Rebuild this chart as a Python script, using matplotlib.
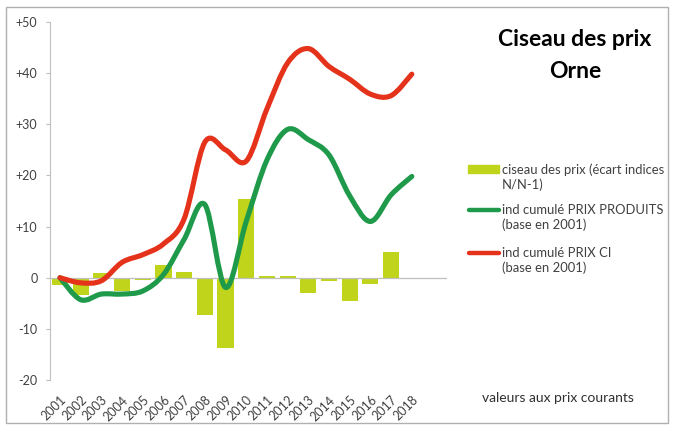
import matplotlib.pyplot as plt
from matplotlib.path import Path
from matplotlib.patches import PathPatch, Rectangle
from matplotlib.lines import Line2D

plt.rcParams['font.family'] = ['Lato', 'DejaVu Sans']

annees = ['2001', '2002', '2003', '2004', '2005', '2006', '2007', '2008', '2009',
          '2010', '2011', '2012', '2013', '2014', '2015', '2016', '2017', '2018']
ciseau = [-1.4, -3.3, 1.0, -2.6, -0.4, 2.5, 1.2, -7.3, -13.7,
          15.3, 0.3, 0.3, -3.0, -0.6, -4.5, -1.2, 5.1, -0.3]
prix_produits = [0, -4.3, -3.2, -3.2, -2.6, 0.6, 7.5, 14.3, -1.9,
                 11.0, 23.0, 29.0, 27.0, 24.0, 16.0, 11.0, 16.2, 19.8]
prix_ci = [0, -1.0, -0.6, 3.0, 4.5, 6.6, 11.5, 26.5, 25.0,
           22.8, 33.0, 42.0, 44.8, 41.3, 38.8, 35.9, 35.6, 39.8]

VERT_CLAIR = '#bfd41a'
VERT = '#1f9a4a'
ROUGE = '#e5321b'
GRIS = '#bfbfbf'
TEXTE = '#404040'


def courbe_lissee(ax, xs, ys, couleur):
    # lissage type Excel : segments de Bezier cubiques
    pts = list(zip(xs, ys))
    verts = [pts[0]]
    codes = [Path.MOVETO]
    n = len(pts)
    for i in range(n - 1):
        p0 = pts[i - 1] if i > 0 else pts[i]
        p1 = pts[i]
        p2 = pts[i + 1]
        p3 = pts[i + 2] if i + 2 < n else pts[i + 1]
        c1 = (p1[0] + (p2[0] - p0[0]) / 6, p1[1] + (p2[1] - p0[1]) / 6)
        c2 = (p2[0] - (p3[0] - p1[0]) / 6, p2[1] - (p3[1] - p1[1]) / 6)
        verts += [c1, c2, p2]
        codes += [Path.CURVE4] * 3
    patch = PathPatch(Path(verts, codes), facecolor='none', edgecolor=couleur,
                      lw=3.7, capstyle='round', joinstyle='round', zorder=4)
    ax.add_patch(patch)


def fx(px):
    return px / 673


def fy(py):
    return 1 - py / 429


fig = plt.figure(figsize=(6.73, 4.29), dpi=100)
ax = fig.add_axes([50 / 673, 49 / 429, 397 / 673, 358 / 429])

x = list(range(len(annees)))
ax.bar(x, ciseau, width=0.78, color=VERT_CLAIR, zorder=2)
courbe_lissee(ax, x, prix_produits, VERT)
courbe_lissee(ax, x, prix_ci, ROUGE)
ax.axhline(0, color=GRIS, lw=0.9, zorder=3)

ax.set_xlim(-0.48, 18.7)
ax.set_ylim(-20, 50)
ax.set_yticks(range(-20, 51, 10))
ax.set_yticklabels(['-20', '-10', '0', '+10', '+20', '+30', '+40', '+50'])
ax.set_xticks(x)
ax.set_xticklabels(annees, rotation=45, ha='right', rotation_mode='anchor')

for s in ['top', 'right', 'bottom']:
    ax.spines[s].set_visible(False)
ax.spines['left'].set_color(GRIS)
ax.tick_params(axis='y', colors=GRIS, length=3, labelcolor=TEXTE, labelsize=9, pad=6)
ax.tick_params(axis='x', length=0, labelcolor=TEXTE, labelsize=9, pad=10)

# cadre gris autour du graphique
fig.patches.append(Rectangle((fx(6), fy(423)), 662 / 673, 416 / 429,
                             transform=fig.transFigure, fill=False,
                             edgecolor='#b0b0b0', lw=1))

fig.text(fx(575), fy(40), 'Ciseau des prix', ha='center', va='center',
         fontsize=16.5, fontweight='bold', color='black')
fig.text(fx(575), fy(71), 'Orne', ha='center', va='center',
         fontsize=16.5, fontweight='bold', color='black')

# legende
fig.patches.append(Rectangle((fx(468), fy(173)), fx(499) - fx(468), fy(165) - fy(173),
                             transform=fig.transFigure, color=VERT_CLAIR))
fig.lines.append(Line2D([fx(469), fx(499)], [fy(210), fy(210)], transform=fig.transFigure,
                        color=VERT, lw=3.2, solid_capstyle='round'))
fig.lines.append(Line2D([fx(469), fx(499)], [fy(253), fy(253)], transform=fig.transFigure,
                        color=ROUGE, lw=3.2, solid_capstyle='round'))
legende = [
    (170, 'ciseau des prix (écart indices', 'N/N-1)'),
    (210, 'ind cumulé PRIX PRODUITS', '(base en 2001)'),
    (253, 'ind cumulé PRIX CI', '(base en 2001)'),
]
for py, ligne1, ligne2 in legende:
    fig.text(fx(502), fy(py), ligne1, ha='left', va='center', fontsize=9.4, color=TEXTE)
    fig.text(fx(502), fy(py + 15), ligne2, ha='left', va='center', fontsize=9.4, color=TEXTE)

fig.text(fx(558), fy(398), 'valeurs aux prix courants', ha='center', va='center',
         fontsize=10, color='#303030')

fig.savefig('out.png', dpi=100)
